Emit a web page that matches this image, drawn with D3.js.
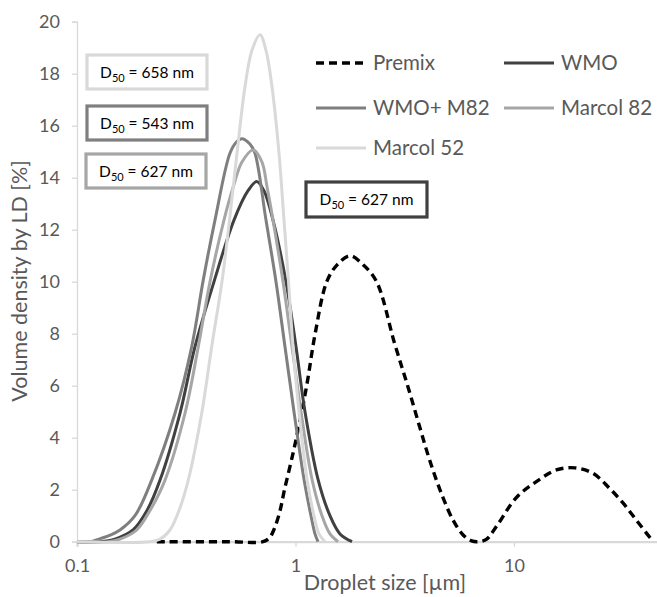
<!DOCTYPE html>
<html><head><meta charset="utf-8">
<script src="https://cdn.jsdelivr.net/npm/d3@7"></script>
<style>html,body{margin:0;padding:0;background:#fff;overflow:hidden}</style>
</head><body><svg id="c" width="657" height="597"></svg>
<script>
// ---- data ----
const seriesNames = ["Premix", "WMO", "WMO+ M82", "Marcol 82", "Marcol 52"];
const premixSize = [0.232, 0.5, 0.71, 0.76, 0.80, 0.85, 0.89, 0.95, 1.01, 1.125, 1.23, 1.39, 1.55, 1.776, 2.04, 2.35, 2.84, 3.27, 3.70, 4.11, 4.65, 5.26, 5.85, 6.4, 6.9, 7.5, 8.3, 10.26, 12.66, 15.6, 19.0, 23.0, 27.4, 31.6, 36.3, 41.8, 43.5];
const premixVol  = [0, 0, 0, 0.15, 0.5, 1.2, 2.0, 3.0, 4.0, 6.0, 8.0, 10.0, 10.65, 11.0, 10.65, 10.0, 7.63, 5.96, 4.42, 3.14, 1.86, 0.83, 0.26, 0.03, 0, 0.1, 0.58, 1.7, 2.31, 2.76, 2.84, 2.63, 2.05, 1.48, 0.83, 0.17, 0];
const wmoSize = [0.1, 0.1274, 0.1492, 0.1804, 0.2091, 0.2399, 0.2960, 0.3467, 0.4236, 0.5230, 0.6064, 0.6643, 0.7174, 0.7889, 0.9046, 1.0053, 1.1053, 1.268, 1.438, 1.598, 1.814];
const wmoVol  = [0, 0, 0.1, 0.45, 1.2, 2.37, 4.94, 7.5, 10.0, 12.37, 13.5, 13.85, 13.5, 12.37, 10.0, 7.5, 5.0, 2.4, 1.0, 0.3, 0];
const wmoM82Size = [0.1, 0.1147, 0.1209, 0.1416, 0.1573, 0.1842, 0.2197, 0.2809, 0.3349, 0.3784, 0.4281, 0.5012, 0.5381, 0.5672, 0.6185, 0.6524, 0.7328, 0.8142, 0.8951, 0.9842, 1.0937, 1.177, 1.228, 1.268];
const wmoM82Vol  = [0, 0, 0.05, 0.25, 0.45, 1.0, 2.37, 4.94, 7.5, 10.07, 12.37, 14.94, 15.38, 15.5, 15.3, 14.94, 12.37, 10.0, 7.5, 5.0, 2.4, 1.0, 0.3, 0];
const m82Size = [0.1, 0.1386, 0.1573, 0.1875, 0.2158, 0.2528, 0.3121, 0.3590, 0.4062, 0.4706, 0.5191, 0.5689, 0.6409, 0.7025, 0.7408, 0.7889, 0.8766, 0.9638, 1.0597, 1.190, 1.322, 1.438, 1.565];
const m82Vol  = [0, 0, 0.1, 0.45, 1.2, 2.37, 4.94, 7.5, 10.0, 12.37, 13.65, 14.6, 15.07, 14.6, 13.65, 12.37, 10.0, 7.5, 5.0, 2.4, 1.0, 0.3, 0];
const m52Size = [0.1, 0.2158, 0.2399, 0.2664, 0.2930, 0.3231, 0.3722, 0.4135, 0.4607, 0.4989, 0.5398, 0.5873, 0.6321, 0.6878, 0.7328, 0.7806, 0.8405, 0.8858, 0.9290, 0.9741, 1.0375, 1.129, 1.215, 1.281, 1.365];
const m52Vol  = [0, 0, 0.1, 0.45, 1.2, 2.37, 4.94, 7.5, 10.0, 12.37, 14.94, 17.5, 18.9, 19.5, 18.9, 17.5, 14.94, 12.37, 10.0, 7.5, 5.0, 2.4, 1.0, 0.3, 0];
const xTicks = [0.1, 1, 10];
const xTickLabels = ["0.1", "1", "10"];
const yTicks = [0, 2, 4, 6, 8, 10, 12, 14, 16, 18, 20];
const d50Labels = ["658", "543", "627", "627"];

// ---- layout ----
const svg = d3.select("#c");
const x = d3.scaleLog().domain([0.1, 100]).range([77, 732.5]);
const y = d3.scaleLinear().domain([0, 20]).range([541.7, 21.7]);
const font = "Lato, 'Open Sans', sans-serif";
const textCol = "#595959";

// axes
const yAxis = d3.axisLeft(y).tickValues(yTicks).tickSize(5).tickPadding(12).tickFormat(d3.format("d"));
const gy = svg.append("g").attr("transform", `translate(${x(0.1)},0)`).call(yAxis);
gy.select(".domain").attr("stroke", "#d9d9d9").attr("stroke-width", 1.3);
gy.selectAll(".tick line").attr("stroke", "#d9d9d9").attr("stroke-width", 1.3);
gy.selectAll(".tick text").attr("fill", textCol).style("font-family", font).style("font-size", "18px");

const xAxis = d3.axisBottom(x).tickValues(xTicks).tickSize(5).tickPadding(13).tickFormat((d, i) => xTickLabels[i]);
const gx = svg.append("g").attr("transform", `translate(0,${y(0)})`).call(xAxis);
gx.select(".domain").attr("stroke", "#d9d9d9").attr("stroke-width", 2.2);
gx.selectAll(".tick line").attr("stroke", "#d9d9d9").attr("stroke-width", 1.3);
gx.selectAll(".tick text").attr("fill", textCol).style("font-family", font).style("font-size", "18px");

// axis titles
svg.append("text").attr("transform", "translate(27,281) rotate(-90)").attr("text-anchor", "middle")
  .attr("fill", textCol).style("font-family", font).style("font-size", "21.5px").text("Volume density by LD [%]");
svg.append("text").attr("x", 385).attr("y", 590).attr("text-anchor", "middle")
  .attr("fill", textCol).style("font-family", font).style("font-size", "21.5px").text("Droplet size [µm]");

// series
const series = [
  {name: seriesNames[0], s: premixSize, v: premixVol, color: "#000000", dash: "8,5", w: 3.4},
  {name: seriesNames[1], s: wmoSize, v: wmoVol, color: "#404040", dash: null, w: 3},
  {name: seriesNames[2], s: wmoM82Size, v: wmoM82Vol, color: "#7f7f7f", dash: null, w: 3},
  {name: seriesNames[3], s: m82Size, v: m82Vol, color: "#a6a6a6", dash: null, w: 3},
  {name: seriesNames[4], s: m52Size, v: m52Vol, color: "#d9d9d9", dash: null, w: 3}
];
const line = d3.line().x(d => x(d[0])).y(d => Math.min(y(0), y(d[1]))).curve(d3.curveCatmullRom.alpha(0.5));
series.forEach(sr => {
  const pts = sr.s.map((s, i) => [s, sr.v[i]]);
  svg.append("path").datum(pts).attr("d", line).attr("fill", "none")
    .attr("stroke", sr.color).attr("stroke-width", sr.w)
    .attr("stroke-dasharray", sr.dash).attr("stroke-linejoin", "round");
});

// legend
const legPos = [[316, 63], [504, 63], [316, 108], [504, 108], [316, 148]];
series.forEach((sr, i) => {
  const [lx, ly] = legPos[i];
  svg.append("line").attr("x1", lx).attr("x2", lx + 50).attr("y1", ly).attr("y2", ly)
    .attr("stroke", sr.color).attr("stroke-width", sr.w).attr("stroke-dasharray", sr.dash);
  svg.append("text").attr("x", lx + 57).attr("y", ly + 7).attr("fill", textCol)
    .style("font-family", font).style("font-size", "20.5px").text(sr.name);
});

// D50 boxes
const boxes = [
  {x: 87, y: 55, w: 120, h: 34, color: "#d9d9d9"},
  {x: 87, y: 106, w: 120, h: 34, color: "#7f7f7f"},
  {x: 86, y: 154, w: 120, h: 34, color: "#a6a6a6"},
  {x: 306, y: 182, w: 121, h: 35, color: "#404040"}
];
boxes.forEach((b, i) => {
  svg.append("rect").attr("x", b.x).attr("y", b.y).attr("width", b.w).attr("height", b.h)
    .attr("fill", "#fff").attr("stroke", b.color).attr("stroke-width", 3.2);
  const t = svg.append("text").attr("x", b.x + b.w / 2).attr("y", b.y + b.h / 2 + 5.5)
    .attr("text-anchor", "middle").attr("fill", "#000").style("font-family", font).style("font-size", "15.5px");
  t.append("tspan").text("D");
  t.append("tspan").attr("dy", 4).style("font-size", "11px").text("50");
  t.append("tspan").attr("dy", -4).text(" = " + d50Labels[i] + " nm");
});
</script></body></html>
